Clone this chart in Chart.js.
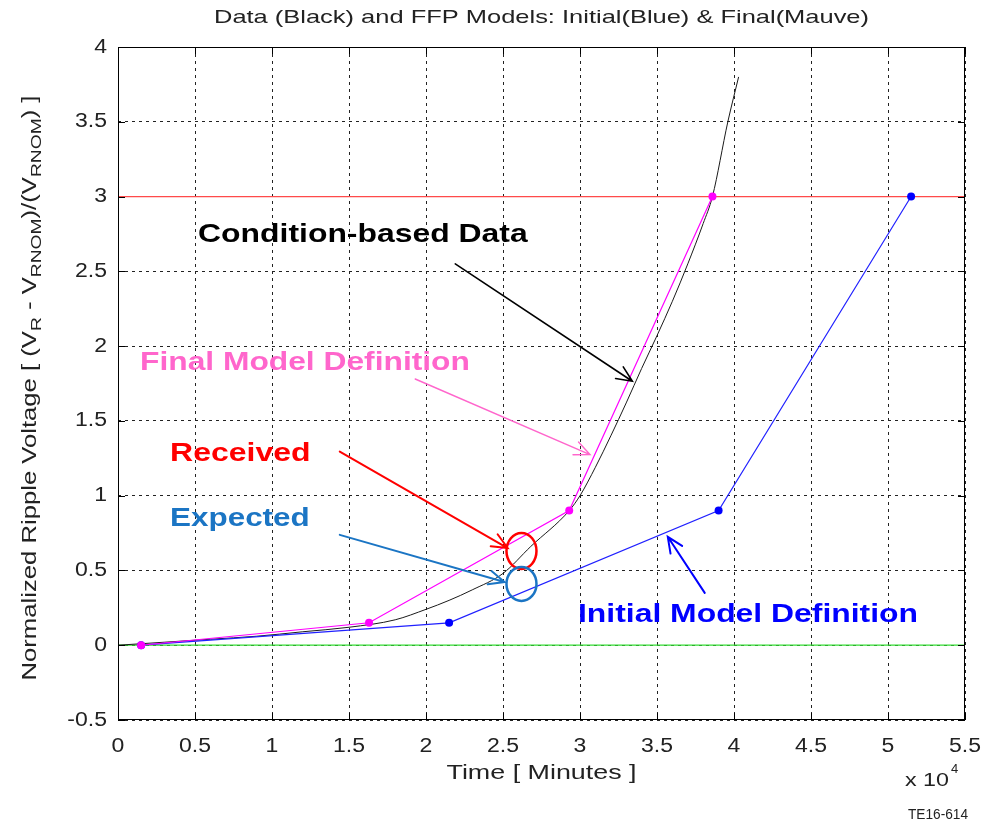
<!DOCTYPE html>
<html>
<head>
<meta charset="utf-8">
<title>Ripple voltage vs time</title>
<script src="https://cdn.jsdelivr.net/npm/chart.js@4/dist/chart.umd.min.js"></script>
<style>
  html, body { margin: 0; padding: 0; background: #fff; }
  #wrap { width: 990px; height: 828px; }
</style>
</head>
<body>
<div id="wrap"><canvas id="chart" width="990" height="828"></canvas></div>
<script>
// time axis is in units of 10^4 minutes
const xTicks = [0, 0.5, 1, 1.5, 2, 2.5, 3, 3.5, 4, 4.5, 5, 5.5];
const yTicks = [-0.5, 0, 0.5, 1, 1.5, 2, 2.5, 3, 3.5, 4];

// condition-based measured data (black)
const timeData = [0, 0.3, 0.6, 0.9, 1.2, 1.5, 1.8, 2.0, 2.15, 2.3, 2.5, 2.68, 2.93, 3.0, 3.1, 3.2, 3.3, 3.4, 3.5, 3.6, 3.7, 3.8, 3.86, 3.96, 4.03];
const rippleData = [0, 0.02, 0.04, 0.06, 0.09, 0.12, 0.17, 0.24, 0.30, 0.37, 0.48, 0.66, 0.90, 1.0, 1.19, 1.4, 1.62, 1.85, 2.07, 2.3, 2.55, 2.82, 3.0, 3.5, 3.8];

// final FFP model (mauve)
const timeFinal = [0.15, 1.63, 2.93, 3.86];
const rippleFinal = [0, 0.15, 0.9, 3.0];

// initial FFP model (blue)
const timeInitial = [0.15, 2.15, 3.9, 5.15];
const rippleInitial = [0, 0.15, 0.9, 3.0];

// reference levels
const failureLevel = 3;
const baseLevel = 0;

const pts = (xs, ys) => xs.map((x, i) => ({ x: x, y: ys[i] }));
const xMin = xTicks[0];
const xMax = xTicks[xTicks.length - 1];

const FONT = "'Liberation Sans', Arial, sans-serif";
const TEXT = '#222';

// callouts drawn in data coordinates
const callouts = [
  { text: 'Condition-based Data', color: '#000000', x0: 0.52, x1: 2.66, y: 2.74,
    arrow: { from: [2.19, 2.55], to: [3.34, 1.765], width: 1.6 } },
  { text: 'Final Model Definition', color: '#ff66cc', x0: 0.143, x1: 2.285, y: 1.886,
    arrow: { from: [1.93, 1.78], to: [3.065, 1.275], width: 1.4 } },
  { text: 'Received', color: '#ff0000', x0: 0.338, x1: 1.25, y: 1.275,
    arrow: { from: [1.44, 1.295], to: [2.53, 0.65], width: 2 } },
  { text: 'Expected', color: '#1b75c4', x0: 0.338, x1: 1.245, y: 0.84,
    arrow: { from: [1.44, 0.738], to: [2.51, 0.423], width: 2 } },
  { text: 'Initial Model Definition', color: '#0000ff', x0: 2.987, x1: 5.195, y: 0.2,
    arrow: { from: [3.81, 0.35], to: [3.57, 0.725], width: 2 } }
];

const rings = [
  { x: 2.62, y: 0.63, rx: 15, ry: 18, color: '#ff0000' },
  { x: 2.62, y: 0.41, rx: 15, ry: 17, color: '#1b75c4' }
];

// draw text squeezed/stretched to an exact width
function fitText(ctx, text, x, y, width, font, align) {
  ctx.save();
  ctx.font = font;
  const sx = width / ctx.measureText(text).width;
  ctx.restore();
  stretchText(ctx, text, x, y, sx, font, align);
}

// draw text with a fixed horizontal stretch factor
function stretchText(ctx, text, x, y, sx, font, align) {
  ctx.save();
  ctx.font = font;
  const width = ctx.measureText(text).width * sx;
  let left = x;
  if (align === 'center') left = x - width / 2;
  if (align === 'right') left = x - width;
  ctx.translate(left, y);
  ctx.scale(sx, 1);
  ctx.textAlign = 'left';
  ctx.fillText(text, 0, 0);
  ctx.restore();
}

function drawArrow(ctx, x1, y1, x2, y2, color, width) {
  const ang = Math.atan2(y2 - y1, x2 - x1);
  const head = 17;
  const spread = 0.42;
  ctx.save();
  ctx.strokeStyle = color;
  ctx.lineWidth = width;
  ctx.lineCap = 'round';
  ctx.beginPath();
  ctx.moveTo(x1, y1);
  ctx.lineTo(x2, y2);
  ctx.moveTo(x2 - head * Math.cos(ang - spread), y2 - head * Math.sin(ang - spread));
  ctx.lineTo(x2, y2);
  ctx.lineTo(x2 - head * Math.cos(ang + spread), y2 - head * Math.sin(ang + spread));
  ctx.stroke();
  ctx.restore();
}

const annotationPlugin = {
  id: 'annotations',
  afterDatasetsDraw(chart) {
    const ctx = chart.ctx;
    const xs = chart.scales.x;
    const ys = chart.scales.y;

    callouts.forEach(c => {
      ctx.save();
      ctx.fillStyle = c.color;
      ctx.textBaseline = 'middle';
      const left = xs.getPixelForValue(c.x0);
      const right = xs.getPixelForValue(c.x1);
      fitText(ctx, c.text, left, ys.getPixelForValue(c.y), right - left, 'bold 25px ' + FONT, 'left');
      ctx.restore();
      const a = c.arrow;
      drawArrow(ctx,
        xs.getPixelForValue(a.from[0]), ys.getPixelForValue(a.from[1]),
        xs.getPixelForValue(a.to[0]), ys.getPixelForValue(a.to[1]),
        c.color, a.width);
    });

    rings.forEach(r => {
      ctx.save();
      ctx.strokeStyle = r.color;
      ctx.lineWidth = 2.5;
      ctx.beginPath();
      ctx.ellipse(xs.getPixelForValue(r.x), ys.getPixelForValue(r.y), r.rx, r.ry, 0, 0, Math.PI * 2);
      ctx.stroke();
      ctx.restore();
    });
  },
  afterDraw(chart) {
    const ctx = chart.ctx;
    const a = chart.chartArea;
    const xs = chart.scales.x;
    const ys = chart.scales.y;

    // solid frame with inward ticks on all four sides
    ctx.save();
    ctx.strokeStyle = '#000';
    ctx.lineWidth = 1;
    ctx.strokeRect(a.left + 0.5, a.top + 0.5, a.right - a.left - 1, a.bottom - a.top - 1);
    ctx.beginPath();
    xTicks.forEach(v => {
      const px = Math.round(xs.getPixelForValue(v)) + 0.5;
      ctx.moveTo(px, a.bottom); ctx.lineTo(px, a.bottom - 7);
      ctx.moveTo(px, a.top); ctx.lineTo(px, a.top + 7);
    });
    yTicks.forEach(v => {
      const py = Math.round(ys.getPixelForValue(v)) + 0.5;
      ctx.moveTo(a.left, py); ctx.lineTo(a.left + 7, py);
      ctx.moveTo(a.right, py); ctx.lineTo(a.right - 7, py);
    });
    ctx.stroke();

    // tick labels
    ctx.fillStyle = TEXT;
    ctx.textBaseline = 'middle';
    const tickFont = '20px ' + FONT;
    xTicks.forEach(v => {
      stretchText(ctx, String(v), xs.getPixelForValue(v), a.bottom + 26, 1.15, tickFont, 'center');
    });
    yTicks.forEach(v => {
      stretchText(ctx, String(v), a.left - 11, ys.getPixelForValue(v), 1.15, tickFont, 'right');
    });

    // title
    fitText(ctx, 'Data (Black) and FFP Models: Initial(Blue) & Final(Mauve)',
      (a.left + a.right) / 2, 18, 655, '19px ' + FONT, 'center');

    // x axis title and exponent
    fitText(ctx, 'Time [ Minutes ]', (a.left + a.right) / 2, 773, 190, '20px ' + FONT, 'center');
    fitText(ctx, 'x 10', 905, 781, 44, '19px ' + FONT, 'left');
    ctx.font = '13px ' + FONT;
    ctx.fillText('4', 951, 769);
    fitText(ctx, 'TE16-614', 968, 815, 60, '14px ' + FONT, 'right');

    // y axis title with subscripts, rotated
    const parts = [
      ['Normalized Ripple Voltage [ (V', false], ['R', true], [' - V', false],
      ['RNOM', true], [')/(V', false], ['RNOM', true], [') ]', false]
    ];
    const mainFont = '20px ' + FONT;
    const subFont = '15px ' + FONT;
    let total = 0;
    parts.forEach(p => { ctx.font = p[1] ? subFont : mainFont; total += ctx.measureText(p[0]).width; });
    const sx = 585 / total;
    ctx.translate(30, 388);
    ctx.rotate(-Math.PI / 2);
    ctx.scale(sx, 1);
    let cx = -total / 2;
    ctx.textAlign = 'left';
    parts.forEach(p => {
      ctx.font = p[1] ? subFont : mainFont;
      ctx.fillText(p[0], cx, p[1] ? 7 : 0);
      cx += ctx.measureText(p[0]).width;
    });
    ctx.restore();
  }
};

new Chart(document.getElementById('chart'), {
  type: 'scatter',
  data: {
    datasets: [
      {
        label: 'Final model',
        data: pts(timeFinal, rippleFinal),
        showLine: true,
        borderColor: '#ff00ff',
        backgroundColor: '#ff00ff',
        borderWidth: 1.2,
        pointRadius: 4,
        pointBorderWidth: 0
      },
      {
        label: 'Initial model',
        data: pts(timeInitial, rippleInitial),
        showLine: true,
        borderColor: '#2020ff',
        backgroundColor: '#0000ff',
        borderWidth: 1.2,
        pointRadius: 4,
        pointBorderWidth: 0
      },
      {
        label: 'Condition-based data',
        data: pts(timeData, rippleData),
        showLine: true,
        borderColor: '#1a1a1a',
        borderWidth: 1,
        cubicInterpolationMode: 'monotone',
        pointRadius: 0
      },
      {
        label: 'Failure threshold',
        data: [{ x: xMin, y: failureLevel }, { x: xMax, y: failureLevel }],
        showLine: true,
        borderColor: '#ff4a4a',
        borderWidth: 1.2,
        pointRadius: 0
      },
      {
        label: 'Nominal',
        data: [{ x: xMin, y: baseLevel }, { x: xMax, y: baseLevel }],
        showLine: true,
        borderColor: '#33dd33',
        borderWidth: 1.2,
        pointRadius: 0
      }
    ]
  },
  options: {
    responsive: false,
    animation: false,
    layout: { padding: { left: 0, right: 25, top: 47, bottom: 78 } },
    plugins: {
      legend: { display: false },
      tooltip: { enabled: false }
    },
    scales: {
      x: {
        type: 'linear',
        min: xMin,
        max: xMax,
        afterFit: s => { s.height = 30; },
        afterBuildTicks: s => { s.ticks = xTicks.map(v => ({ value: v })); },
        grid: { color: '#222', lineWidth: 1, tickLength: 0 },
        border: { display: false, dash: [3, 4] },
        ticks: { display: false }
      },
      y: {
        type: 'linear',
        min: yTicks[0],
        max: yTicks[yTicks.length - 1],
        afterFit: s => { s.width = 118; },
        afterBuildTicks: s => { s.ticks = yTicks.map(v => ({ value: v })); },
        grid: { color: '#222', lineWidth: 1, tickLength: 0 },
        border: { display: false, dash: [3, 4] },
        ticks: { display: false }
      }
    }
  },
  plugins: [annotationPlugin]
});
</script>
</body>
</html>
